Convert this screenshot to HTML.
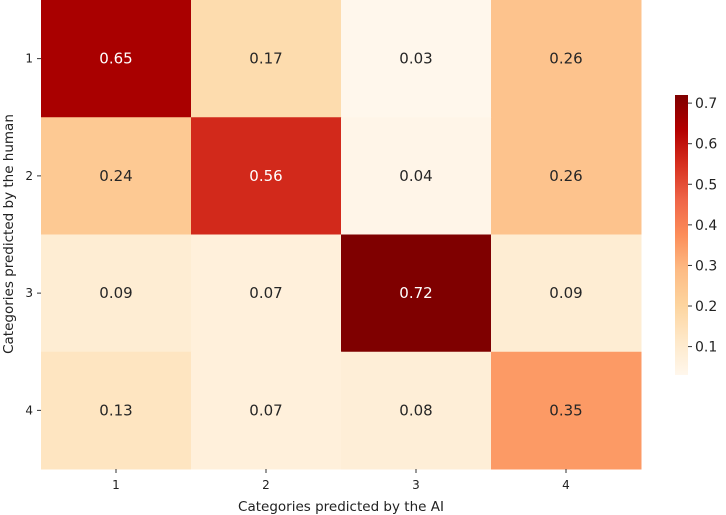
<!DOCTYPE html>
<html><head><meta charset="utf-8">
<style>
body{margin:0;background:#fff;}
svg{display:block;font-family:"DejaVu Sans","Liberation Sans",sans-serif;}
</style></head>
<body>
<svg id="chart" width="726" height="515" viewBox="0 0 726 515">
<defs><linearGradient id="cbgrad" x1="0" y1="1" x2="0" y2="0"></linearGradient></defs>
<g id="cells"></g>
<g id="axes"></g>
<g id="cbar"></g>
<text x="341" y="511" text-anchor="middle" font-size="13.5" fill="#222">Categories predicted by the AI</text>
<text transform="translate(13,234) rotate(-90)" text-anchor="middle" font-size="13.5" fill="#222">Categories predicted by the human</text>
</svg>
<script>
const rowLabels = ["1","2","3","4"];
const colLabels = ["1","2","3","4"];
const values = [
  [0.65,0.17,0.03,0.26],
  [0.24,0.56,0.04,0.26],
  [0.09,0.07,0.72,0.09],
  [0.13,0.07,0.08,0.35]
];
const cbTicks = [0.1,0.2,0.3,0.4,0.5,0.6,0.7];
const vmin = 0.03, vmax = 0.72;

const NS="http://www.w3.org/2000/svg";
const L=41,T=0,W=600,H=469;
const cw=W/colLabels.length, ch=H/rowLabels.length;
const stops=["#fff7ec","#fee8c8","#fdd49e","#fdbb84","#fc8d59","#ef6548","#d7301f","#b30000","#7f0000"];
function hex(h){return [1,3,5].map(i=>parseInt(h.substr(i,2),16));}
function color(v){
  let t=Math.max(0,Math.min(1,(v-vmin)/(vmax-vmin)))*(stops.length-1);
  let i=Math.min(Math.floor(t),stops.length-2),f=t-i;
  let a=hex(stops[i]),b=hex(stops[i+1]);
  return "rgb("+a.map((x,k)=>Math.round(x+(b[k]-x)*f)).join(",")+")";
}
function xS(j){return L+j*cw;}
function yS(i){return T+i*ch;}
const cells=document.getElementById('cells');
values.forEach((row,i)=>row.forEach((v,j)=>{
  const r=document.createElementNS(NS,'rect');
  r.setAttribute('x',xS(j));r.setAttribute('y',yS(i));
  r.setAttribute('width',cw+0.5);r.setAttribute('height',ch+0.5);
  r.setAttribute('fill',color(v));
  
  
  cells.appendChild(r);
  const t=document.createElementNS(NS,'text');
  t.setAttribute('x',xS(j)+cw/2);t.setAttribute('y',yS(i)+ch/2+5);
  t.setAttribute('text-anchor','middle');t.setAttribute('font-size','15');
  t.setAttribute('fill',(v-vmin)/(vmax-vmin)>0.6?'#fff':'#262626');
  t.textContent=v.toFixed(2);
  
  
  cells.appendChild(t);
}));
const axes=document.getElementById('axes');
colLabels.forEach((c,j)=>{
  const x=xS(j)+cw/2;
  const l=document.createElementNS(NS,'line');
  l.setAttribute('x1',x);l.setAttribute('x2',x);l.setAttribute('y1',H);l.setAttribute('y2',H+4);
  l.setAttribute('stroke','#333');
  
  
  axes.appendChild(l);
  const t=document.createElementNS(NS,'text');
  t.setAttribute('x',x);t.setAttribute('y',H+20);t.setAttribute('text-anchor','middle');t.setAttribute('font-size','12');t.setAttribute('fill','#222');
  t.textContent=c;
  
  
  axes.appendChild(t);
});
rowLabels.forEach((r,i)=>{
  const y=yS(i)+ch/2;
  const l=document.createElementNS(NS,'line');
  l.setAttribute('x1',L-4);l.setAttribute('x2',L);l.setAttribute('y1',y);l.setAttribute('y2',y);
  l.setAttribute('stroke','#333');
  
  
  axes.appendChild(l);
  const t=document.createElementNS(NS,'text');
  t.setAttribute('x',L-8);t.setAttribute('y',y+4);t.setAttribute('text-anchor','end');t.setAttribute('font-size','12');t.setAttribute('fill','#222');
  t.textContent=r;
  
  
  axes.appendChild(t);
});
const CX=675,CW=13,CT=95,CB=375;
const grad=document.getElementById('cbgrad');
stops.forEach((s,k)=>{const st=document.createElementNS(NS,'stop');st.setAttribute('offset',k/(stops.length-1));st.setAttribute('stop-color',s);grad.appendChild(st);});
const cb=document.getElementById('cbar');
const cr=document.createElementNS(NS,'rect');
cr.setAttribute('x',CX);cr.setAttribute('y',CT);cr.setAttribute('width',CW);cr.setAttribute('height',CB-CT);cr.setAttribute('fill','url(#cbgrad)');


cb.appendChild(cr);
function cy(v){return CB-(v-vmin)/(vmax-vmin)*(CB-CT);}
cbTicks.forEach(v=>{
  const y=cy(v);
  const l=document.createElementNS(NS,'line');
  l.setAttribute('x1',CX+CW);l.setAttribute('x2',CX+CW+4);l.setAttribute('y1',y);l.setAttribute('y2',y);l.setAttribute('stroke','#333');
  
  
  cb.appendChild(l);
  const t=document.createElementNS(NS,'text');
  t.setAttribute('x',CX+CW+7);t.setAttribute('y',y+5);t.setAttribute('font-size','14');t.setAttribute('fill','#222');
  t.textContent=v.toFixed(1);
  
  
  cb.appendChild(t);
});
</script>
</body></html>
